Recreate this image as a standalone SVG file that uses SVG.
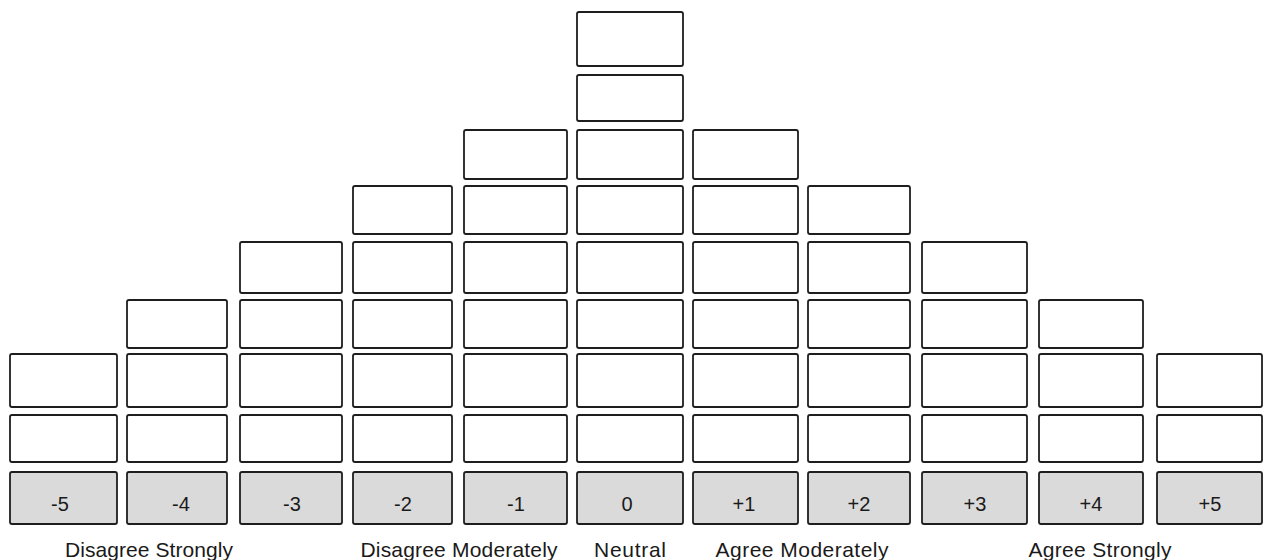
<svg xmlns="http://www.w3.org/2000/svg" width="1264" height="560" viewBox="0 0 1264 560">
<defs>
<style>
.cell{fill:#ffffff;stroke:#1e1e1e;stroke-width:1.8}
.score{fill:#dadada;stroke:#1e1e1e;stroke-width:1.8}
.num{font-family:"Liberation Sans",Arial,sans-serif;font-size:20px;fill:#1a1a1a;text-anchor:middle}
.lbl{font-family:"Liberation Sans",Arial,sans-serif;font-size:21px;fill:#1a1a1a;text-anchor:middle}
</style>
</defs>
<rect width="1264" height="560" fill="#ffffff"/>
<g id="col-m5">
<rect class="cell" x="10" y="354" width="107" height="53" rx="2"/>
<rect class="cell" x="10" y="415" width="107" height="47" rx="2"/>
<rect class="score" x="10" y="472" width="107" height="52" rx="2"/>
<text class="num" x="60" y="511">-5</text>
</g>
<g id="col-m4">
<rect class="cell" x="127" y="300" width="100" height="48" rx="2"/>
<rect class="cell" x="127" y="354" width="100" height="53" rx="2"/>
<rect class="cell" x="127" y="415" width="100" height="47" rx="2"/>
<rect class="score" x="127" y="472" width="100" height="52" rx="2"/>
<text class="num" x="181" y="511">-4</text>
</g>
<g id="col-m3">
<rect class="cell" x="240" y="242" width="102" height="51" rx="2"/>
<rect class="cell" x="240" y="300" width="102" height="48" rx="2"/>
<rect class="cell" x="240" y="354" width="102" height="53" rx="2"/>
<rect class="cell" x="240" y="415" width="102" height="47" rx="2"/>
<rect class="score" x="240" y="472" width="102" height="52" rx="2"/>
<text class="num" x="292" y="511">-3</text>
</g>
<g id="col-m2">
<rect class="cell" x="353" y="186" width="99" height="48" rx="2"/>
<rect class="cell" x="353" y="242" width="99" height="51" rx="2"/>
<rect class="cell" x="353" y="300" width="99" height="48" rx="2"/>
<rect class="cell" x="353" y="354" width="99" height="53" rx="2"/>
<rect class="cell" x="353" y="415" width="99" height="47" rx="2"/>
<rect class="score" x="353" y="472" width="99" height="52" rx="2"/>
<text class="num" x="403" y="511">-2</text>
</g>
<g id="col-m1">
<rect class="cell" x="464" y="130" width="103" height="49" rx="2"/>
<rect class="cell" x="464" y="186" width="103" height="48" rx="2"/>
<rect class="cell" x="464" y="242" width="103" height="51" rx="2"/>
<rect class="cell" x="464" y="300" width="103" height="48" rx="2"/>
<rect class="cell" x="464" y="354" width="103" height="53" rx="2"/>
<rect class="cell" x="464" y="415" width="103" height="47" rx="2"/>
<rect class="score" x="464" y="472" width="103" height="52" rx="2"/>
<text class="num" x="516" y="511">-1</text>
</g>
<g id="col-0">
<rect class="cell" x="577" y="12" width="106" height="54" rx="2"/>
<rect class="cell" x="577" y="75" width="106" height="46" rx="2"/>
<rect class="cell" x="577" y="130" width="106" height="49" rx="2"/>
<rect class="cell" x="577" y="186" width="106" height="48" rx="2"/>
<rect class="cell" x="577" y="242" width="106" height="51" rx="2"/>
<rect class="cell" x="577" y="300" width="106" height="48" rx="2"/>
<rect class="cell" x="577" y="354" width="106" height="53" rx="2"/>
<rect class="cell" x="577" y="415" width="106" height="47" rx="2"/>
<rect class="score" x="577" y="472" width="106" height="52" rx="2"/>
<text class="num" x="627" y="511">0</text>
</g>
<g id="col-p1">
<rect class="cell" x="693" y="130" width="105" height="49" rx="2"/>
<rect class="cell" x="693" y="186" width="105" height="48" rx="2"/>
<rect class="cell" x="693" y="242" width="105" height="51" rx="2"/>
<rect class="cell" x="693" y="300" width="105" height="48" rx="2"/>
<rect class="cell" x="693" y="354" width="105" height="53" rx="2"/>
<rect class="cell" x="693" y="415" width="105" height="47" rx="2"/>
<rect class="score" x="693" y="472" width="105" height="52" rx="2"/>
<text class="num" x="744" y="511">+1</text>
</g>
<g id="col-p2">
<rect class="cell" x="808" y="186" width="102" height="48" rx="2"/>
<rect class="cell" x="808" y="242" width="102" height="51" rx="2"/>
<rect class="cell" x="808" y="300" width="102" height="48" rx="2"/>
<rect class="cell" x="808" y="354" width="102" height="53" rx="2"/>
<rect class="cell" x="808" y="415" width="102" height="47" rx="2"/>
<rect class="score" x="808" y="472" width="102" height="52" rx="2"/>
<text class="num" x="859" y="511">+2</text>
</g>
<g id="col-p3">
<rect class="cell" x="922" y="242" width="105" height="51" rx="2"/>
<rect class="cell" x="922" y="300" width="105" height="48" rx="2"/>
<rect class="cell" x="922" y="354" width="105" height="53" rx="2"/>
<rect class="cell" x="922" y="415" width="105" height="47" rx="2"/>
<rect class="score" x="922" y="472" width="105" height="52" rx="2"/>
<text class="num" x="975" y="511">+3</text>
</g>
<g id="col-p4">
<rect class="cell" x="1039" y="300" width="104" height="48" rx="2"/>
<rect class="cell" x="1039" y="354" width="104" height="53" rx="2"/>
<rect class="cell" x="1039" y="415" width="104" height="47" rx="2"/>
<rect class="score" x="1039" y="472" width="104" height="52" rx="2"/>
<text class="num" x="1091" y="511">+4</text>
</g>
<g id="col-p5">
<rect class="cell" x="1157" y="354" width="105" height="53" rx="2"/>
<rect class="cell" x="1157" y="415" width="105" height="47" rx="2"/>
<rect class="score" x="1157" y="472" width="105" height="52" rx="2"/>
<text class="num" x="1210" y="511">+5</text>
</g>
<g id="labels">
<text class="lbl" x="149" y="557" textLength="168" lengthAdjust="spacing">Disagree Strongly</text>
<text class="lbl" x="459" y="557" textLength="197" lengthAdjust="spacing">Disagree Moderately</text>
<text class="lbl" x="630" y="557" textLength="72" lengthAdjust="spacing">Neutral</text>
<text class="lbl" x="802" y="557" textLength="173" lengthAdjust="spacing">Agree Moderately</text>
<text class="lbl" x="1100" y="557" textLength="143" lengthAdjust="spacing">Agree Strongly</text>
</g>
</svg>
